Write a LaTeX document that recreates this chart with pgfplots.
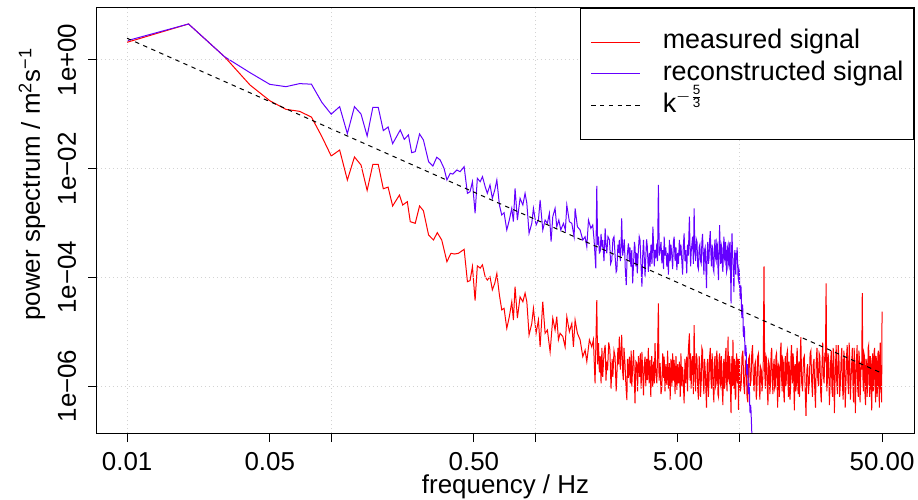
\documentclass[border=0pt]{standalone}
\usepackage{fontspec}
\setmainfont{Liberation Sans}
\usepackage{pgfplots}
\usepackage{pgfplotstable}
\pgfplotsset{compat=1.18}

\definecolor{specred}{HTML}{FF0000}
\definecolor{specpurple}{HTML}{6400FF}
\definecolor{gridgray}{HTML}{D3D3D3}

% power spectra: frequency in Hz, log10 of the power
\pgfplotstableread{
f p
0.01 0.326
0.02 0.663
0.03 0.061
0.04 -0.46
0.05 -0.749
0.06 -0.908
0.07 -0.945
0.08 -1.05
0.09 -1.41
0.10 -1.767
0.11 -1.657
0.12 -2.209
0.13 -1.785
0.14 -1.933
0.15 -2.40
0.16 -1.92
0.17 -1.92
0.18 -2.37
0.19 -2.34
0.20 -2.687
0.216 -2.485
0.224 -2.669
0.236 -2.608
0.244 -2.976
0.258 -3.006
0.271 -2.687
0.283 -2.774
0.300 -3.221
0.317 -3.313
0.331 -3.178
0.348 -3.313
0.369 -3.712
0.386 -3.558
0.402 -3.571
0.420 -3.558
0.448 -3.485
0.465 -4.08
0.479 -4.06
0.492 -3.80
0.507 -4.43
0.520 -3.79
0.537 -3.83
0.551 -3.77
0.568 -3.99
0.582 -4.05
0.600 -3.99
0.616 -4.23
0.633 -4.11
0.648 -3.93
0.667 -4.325
0.685 -4.60
0.703 -4.57
0.725 -4.94
0.746 -4.725
0.767 -4.45
0.781 -4.785
0.796 -4.17
0.817 -4.75
0.842 -4.36
0.869 -4.45
0.891 -4.29
0.909 -4.45
0.932 -5.06
0.961 -4.85
0.979 -4.57
1.009 -5.03
1.036 -4.785
1.056 -5.28
1.088 -4.45
1.117 -5.03
1.146 -4.97
1.182 -5.37
1.218 -4.75
1.250 -4.97
1.274 -4.725
1.298 -5.15
1.323 -5.03
1.364 -5.09
1.400 -5.28
1.427 -4.725
1.469 -5.00
1.510 -4.85
1.537 -5.28
1.567 -4.785
1.608 -5.03
1.658 -5.15
1.709 -5.46
1.754 -5.34
1.788 -5.55
1.841 -5.15
1.891 -5.28
1.926 -5.15
1.963 -5.95
2.001 -4.42
2.02 -5.60
2.04 -5.21
2.06 -5.75
2.08 -5.45
2.10 -5.95
2.12 -5.30
2.14 -5.83
2.17 -5.40
2.20 -5.245
2.22 -5.90
2.24 -5.55
2.26 -5.71
2.29 -5.20
2.32 -5.34
2.35 -6.05
2.38 -5.50
2.40 -5.83
2.43 -5.35
2.46 -5.46
2.49 -6.10
2.51 -5.80
2.54 -5.30
2.56 -5.60
2.58 -5.09
2.61 -5.70
2.63 -5.40
2.65 -5.06
2.68 -5.75
2.70 -5.89
2.72 -5.30
2.75 -5.58
2.78 -6.00
2.81 -6.26
2.83 -5.50
2.86 -5.85
2.89 -5.46
2.92 -5.95
2.95 -5.35
2.97 -6.01
3.00 -5.65
3.03 -5.34
3.06 -5.90
3.08 -6.32
3.11 -5.55
3.14 -5.58
3.17 -6.10
3.20 -5.45
3.24 -5.83
3.27 -5.40
3.30 -6.05
3.33 -5.37
3.36 -5.75
3.39 -6.17
3.42 -5.60
3.45 -5.46
3.48 -6.00
3.51 -5.50
3.54 -5.89
3.58 -5.30
3.61 -5.95
3.65 -5.52
3.68 -6.20
3.72 -5.45
3.76 -6.01
3.80 -5.55
3.83 -5.95
3.86 -5.21
3.90 -5.80
3.94 -5.95
3.97 -5.50
4.01 -4.48
4.04 -5.90
4.09 -5.58
4.13 -6.15
4.17 -6.01
4.21 -5.40
4.25 -5.85
4.28 -5.46
4.32 -6.10
4.36 -5.60
4.41 -5.98
4.45 -5.35
4.49 -6.05
4.54 -5.58
4.58 -6.25
4.62 -5.50
4.67 -6.01
4.71 -5.40
4.75 -5.90
4.79 -5.52
4.84 -6.15
4.89 -5.45
4.94 -6.07
4.98 -5.60
5.03 -5.95
5.08 -5.55
5.13 -6.20
5.17 -5.40
5.22 -6.01
5.27 -5.65
5.31 -5.90
5.36 -6.32
5.41 -5.50
5.46 -5.95
5.52 -5.46
5.57 -6.10
5.62 -5.35
5.69 -5.03
5.73 -5.90
5.77 -5.40
5.80 -6.05
5.85 -5.55
5.90 -5.45
5.95 -6.15
6.00 -4.88
6.05 -5.70
6.10 -6.10
6.15 -5.40
6.20 -5.50
6.25 -6.05
6.30 -6.25
6.35 -5.45
6.40 -5.60
6.45 -6.20
6.50 -5.95
6.55 -5.30
6.60 -5.35
6.65 -5.90
6.70 -6.15
6.75 -5.50
6.80 -5.70
6.85 -6.05
6.90 -6.40
6.95 -5.60
7.00 -5.50
7.05 -6.20
7.10 -5.90
7.15 -5.45
7.20 -5.30
7.25 -5.85
7.30 -6.05
7.35 -5.40
7.40 -5.65
7.45 -6.10
7.50 -6.30
7.55 -5.55
7.60 -5.45
7.65 -6.00
7.70 -5.95
7.75 -5.35
7.80 -5.55
7.85 -6.15
7.90 -6.20
7.95 -5.50
8.00 -5.40
8.05 -5.95
8.10 -6.00
8.15 -5.45
8.20 -5.75
8.25 -6.10
8.30 -6.35
8.35 -5.60
8.40 -5.50
8.45 -6.05
8.50 -5.95
8.55 -5.40
8.60 -5.30
8.65 -5.90
8.70 -6.10
8.75 -5.65
8.80 -5.09
8.85 -5.85
8.90 -5.90
8.95 -5.45
9.00 -5.60
9.05 -6.15
9.10 -6.50
9.15 -5.70
9.20 -5.45
9.25 -6.00
9.30 -5.15
9.35 -5.80
9.40 -6.05
9.45 -5.50
9.50 -5.65
9.55 -6.25
9.60 -6.20
9.65 -5.55
9.70 -5.40
9.75 -5.90
9.80 -5.95
9.85 -5.50
9.90 -6.44
9.95 -5.75
10.0 -5.50
10.1 -6.10
10.2 -6.00
10.3 -5.45
10.4 -5.35
10.5 -5.95
10.6 -6.15
10.7 -5.55
10.8 -5.60
10.9 -6.20
11.0 -6.30
11.1 -5.50
11.2 -5.45
11.3 -6.00
11.4 -5.90
11.5 -5.40
11.6 -5.25
11.7 -5.85
11.8 -6.10
11.9 -5.60
12.0 -5.55
12.1 -6.25
12.2 -6.00
12.3 -5.45
12.4 -5.40
12.5 -5.95
12.6 -6.25
12.7 -5.65
12.8 -5.70
12.9 -6.10
13.0 -5.95
13.1 -5.50
13.2 -3.80
13.3 -5.70
13.4 -6.05
13.5 -5.45
13.6 -5.50
13.7 -6.05
13.8 -6.35
13.9 -5.55
14.0 -5.60
14.1 -6.15
14.2 -5.95
14.3 -5.40
14.4 -5.30
14.5 -5.90
14.6 -6.15
14.7 -5.65
14.8 -5.50
14.9 -6.05
15.0 -6.00
15.1 -5.45
15.2 -5.40
15.3 -5.95
15.4 -6.40
15.5 -5.60
15.6 -5.65
15.7 -6.20
15.8 -5.90
15.9 -5.35
16.0 -5.20
16.1 -5.85
16.2 -6.10
16.3 -5.50
16.4 -5.55
16.5 -6.15
16.6 -6.30
16.7 -5.60
16.8 -5.45
16.9 -6.00
17.0 -5.85
17.1 -5.40
17.2 -5.35
17.3 -5.95
17.4 -6.20
17.5 -5.55
17.6 -5.70
17.7 -6.25
17.8 -6.05
17.9 -5.45
18.0 -5.25
18.1 -5.80
18.2 -5.95
18.3 -5.40
18.4 -5.50
18.5 -6.05
18.6 -6.45
18.7 -5.65
18.8 -5.60
18.9 -6.10
19.0 -6.00
19.1 -5.45
19.2 -5.30
19.3 -5.90
19.4 -6.15
19.5 -5.60
19.6 -5.55
19.7 -6.20
19.8 -5.90
19.9 -5.40
20.0 -5.10
20.2 -5.95
20.4 -6.10
20.6 -5.50
20.8 -5.45
21.0 -6.05
21.2 -6.55
21.4 -5.70
21.6 -5.60
21.8 -6.15
22.0 -5.95
22.2 -5.40
22.4 -5.35
22.6 -5.90
22.8 -6.20
23.0 -5.60
23.2 -5.50
23.4 -6.05
23.6 -6.40
23.8 -5.55
24.0 -5.30
24.2 -5.85
24.4 -6.00
24.6 -5.40
24.8 -5.45
25.0 -6.10
25.2 -6.30
25.4 -5.60
25.6 -5.20
25.8 -5.80
26.0 -5.95
26.2 -5.45
26.4 -5.50
26.6 -4.11
26.8 -6.10
27.0 -5.90
27.2 -5.40
27.4 -5.55
27.6 -6.35
27.8 -6.00
28.0 -5.55
28.2 -5.35
28.4 -6.05
28.6 -6.20
28.8 -5.30
29.0 -5.45
29.2 -6.50
29.4 -5.95
29.6 -5.60
29.8 -5.25
30.0 -5.95
30.25 -6.15
30.5 -5.25
30.75 -5.50
31.0 -6.20
31.25 -5.95
31.5 -5.50
31.75 -5.30
32.0 -6.00
32.25 -6.25
32.5 -5.35
32.75 -5.55
33.0 -6.40
33.25 -6.00
33.5 -5.45
33.75 -5.25
34.0 -5.90
34.25 -6.15
34.5 -5.20
34.75 -5.55
35.0 -6.25
35.25 -5.85
35.5 -5.60
35.75 -5.30
36.0 -5.95
36.25 -6.30
36.5 -5.30
36.75 -5.60
37.0 -6.50
37.25 -5.90
37.5 -5.50
37.75 -5.25
38.0 -6.05
38.25 -6.20
38.5 -5.35
38.75 -5.50
39.0 -6.30
39.25 -5.95
39.5 -5.55
39.75 -5.70
40.0 -4.29
40.25 -5.80
40.5 -6.10
40.75 -5.40
41.0 -5.45
41.25 -6.15
41.5 -6.35
41.75 -5.50
42.0 -5.60
42.25 -6.20
42.5 -5.90
42.75 -5.30
43.0 -5.25
43.25 -5.95
43.5 -6.20
43.75 -5.45
44.0 -5.50
44.25 -6.05
44.5 -6.45
44.75 -5.60
45.0 -5.40
45.25 -6.10
45.5 -5.95
45.75 -5.35
46.0 -5.30
46.25 -6.00
46.5 -6.30
46.75 -5.45
47.0 -5.55
47.25 -6.20
47.5 -6.05
47.75 -5.40
48.0 -5.35
48.25 -5.90
48.5 -6.40
48.75 -5.50
49.0 -5.20
49.25 -6.00
49.5 -6.10
49.75 -6.30
50.0 -4.63
}\measured

\pgfplotstableread{
f p
0.01 0.355
0.02 0.663
0.03 0.061
0.04 -0.233
0.05 -0.448
0.06 -0.491
0.07 -0.435
0.08 -0.445
0.09 -0.78
0.10 -0.997
0.11 -0.859
0.12 -1.355
0.13 -0.859
0.14 -0.995
0.15 -1.399
0.16 -0.871
0.17 -0.871
0.18 -1.30
0.19 -1.233
0.20 -1.54
0.218 -1.288
0.228 -1.46
0.239 -1.38
0.248 -1.706
0.258 -1.687
0.271 -1.362
0.283 -1.472
0.300 -1.871
0.315 -1.951
0.329 -1.79
0.342 -1.84
0.357 -1.993
0.369 -2.209
0.383 -2.085
0.394 -2.10
0.413 -2.025
0.428 -2.056
0.448 -1.964
0.465 -2.454
0.479 -2.424
0.492 -2.24
0.507 -2.82
0.520 -2.178
0.537 -2.24
0.551 -2.147
0.568 -2.332
0.582 -2.454
0.600 -2.30
0.616 -2.546
0.633 -2.393
0.648 -2.209
0.667 -2.669
0.685 -2.853
0.703 -2.81
0.725 -3.129
0.746 -2.945
0.767 -2.73
0.781 -2.976
0.796 -2.362
0.817 -2.945
0.842 -2.546
0.869 -2.669
0.891 -2.454
0.909 -2.638
0.932 -3.19
0.961 -3.006
0.979 -2.73
1.009 -3.037
1.036 -2.945
1.056 -2.577
1.088 -3.129
1.117 -2.945
1.146 -3.006
1.172 -2.822
1.195 -3.344
1.218 -2.884
1.250 -2.73
1.274 -3.068
1.304 -2.945
1.333 -3.129
1.374 -3.006
1.404 -3.129
1.427 -2.669
1.469 -2.976
1.510 -3.006
1.549 -3.252
1.567 -2.73
1.608 -3.068
1.658 -3.129
1.709 -3.313
1.754 -3.252
1.788 -3.436
1.822 -2.945
1.872 -3.098
1.912 -3.037
1.941 -3.313
1.979 -3.834
2.001 -2.319
2.02 -3.40
2.04 -3.252
2.06 -3.55
2.08 -3.528
2.10 -3.20
2.12 -3.45
2.14 -3.313
2.17 -3.70
2.20 -3.098
2.22 -3.40
2.24 -3.558
2.27 -3.25
2.31 -3.313
2.34 -3.75
2.37 -3.681
2.40 -3.30
2.43 -3.252
2.46 -3.60
2.49 -3.90
2.51 -3.865
2.54 -3.40
2.56 -3.55
2.58 -3.313
2.61 -3.70
2.63 -3.45
2.65 -2.914
2.68 -3.60
2.70 -3.497
2.73 -3.30
2.76 -3.85
2.79 -4.141
2.82 -3.60
2.86 -3.374
2.89 -3.70
2.91 -3.45
2.94 -3.804
2.97 -3.50
3.00 -4.11
3.03 -3.75
3.06 -3.35
3.08 -3.436
3.11 -3.80
3.14 -3.55
3.16 -3.926
3.20 -3.50
3.23 -3.25
3.26 -3.313
3.29 -3.70
3.33 -4.172
3.36 -3.60
3.39 -3.313
3.42 -3.65
3.45 -3.988
3.49 -3.50
3.51 -3.30
3.54 -3.436
3.58 -3.90
3.62 -3.55
3.65 -3.804
3.69 -3.40
3.73 -3.75
3.77 -3.068
3.80 -3.45
3.83 -3.80
3.86 -3.497
3.90 -3.65
3.94 -3.374
3.97 -3.70
4.01 -2.30
4.05 -3.60
4.09 -3.497
4.13 -3.35
4.17 -3.742
4.21 -3.50
4.25 -3.85
4.28 -3.252
4.32 -3.60
4.36 -3.45
4.41 -3.804
4.45 -3.55
4.49 -3.95
4.54 -3.313
4.58 -3.70
4.62 -3.40
4.67 -3.62
4.71 -3.85
4.75 -3.35
4.79 -3.252
4.84 -3.70
4.89 -3.45
4.94 -3.865
4.98 -3.55
5.03 -3.75
5.08 -3.313
5.13 -3.60
5.17 -3.40
5.22 -3.681
5.27 -3.95
5.31 -3.45
5.36 -3.19
5.41 -3.70
5.46 -3.50
5.52 -3.926
5.57 -3.40
5.62 -3.60
5.69 -2.884
5.73 -3.45
5.77 -3.80
5.80 -3.55
5.85 -3.40
5.90 -3.25
5.95 -3.75
6.00 -2.73
6.05 -3.50
6.10 -3.70
6.15 -3.30
6.20 -3.35
6.25 -3.80
6.30 -3.85
6.35 -3.45
6.40 -3.40
6.45 -3.70
6.50 -3.75
6.55 -3.35
6.60 -3.20
6.65 -3.60
6.70 -3.95
6.75 -3.50
6.80 -3.45
6.85 -3.80
6.90 -4.20
6.95 -3.55
7.00 -3.35
7.05 -3.75
7.10 -3.65
7.15 -3.30
7.20 -3.15
7.25 -3.55
7.30 -3.80
7.35 -3.40
7.40 -3.50
7.45 -3.85
7.50 -3.90
7.55 -3.45
7.60 -3.30
7.65 -3.65
7.70 -3.70
7.75 -3.35
7.80 -3.40
7.85 -3.80
7.90 -4.05
7.95 -3.50
8.00 -3.04
8.05 -3.55
8.10 -3.75
8.15 -3.40
8.20 -3.45
8.25 -3.80
8.30 -3.90
8.35 -3.50
8.40 -3.25
8.45 -3.65
8.50 -3.70
8.55 -3.35
8.60 -3.50
8.65 -3.90
8.70 -3.85
8.75 -3.45
8.80 -3.40
8.85 -3.75
8.90 -3.80
8.95 -3.40
9.00 -3.35
9.05 -3.85
9.10 -4.48
9.15 -3.60
9.20 -3.19
9.25 -3.50
9.30 -3.75
9.35 -3.95
9.40 -4.27
9.45 -3.70
9.50 -3.50
9.55 -3.80
9.60 -3.95
9.65 -3.55
9.70 -3.60
9.75 -3.45
9.80 -3.74
9.85 -4.00
9.90 -4.05
9.95 -3.85
10.0 -3.90
10.05 -4.30
10.1 -4.40
10.15 -4.15
10.2 -4.20
10.25 -4.65
10.3 -4.75
10.35 -4.50
10.4 -4.60
10.45 -5.05
10.5 -5.10
10.55 -4.90
10.6 -5.00
10.65 -5.40
10.7 -5.45
10.75 -5.25
10.8 -5.35
10.85 -5.75
10.9 -5.80
10.95 -5.60
11.0 -5.70
11.05 -6.10
11.1 -6.15
11.15 -5.95
11.2 -6.05
11.25 -6.45
11.3 -6.50
11.35 -6.35
11.4 -6.45
11.5 -6.85
11.6 -7.00
}\reconstructed

\begin{document}
\begin{tikzpicture}
\begin{axis}[
  name=ax,
  scale only axis, width=408.5bp, height=212.5bp,
  xmode=log, log basis x=10,
  xmin=0.00712, xmax=71.7, ymin=-6.865, ymax=0.957,
  axis line style={line width=0.5bp, black},
  tick align=outside, tick pos=left,
  major tick length=4.5bp,
  tick style={line width=0.5bp, black},
  minor tick style={draw=none},
  xtick={0.01,0.1,1,10}, xticklabels={0.01,{},{},{}},
  extra x ticks={0.05,0.5,5,50},
  extra x tick labels={0.05,0.50,5.00,50.00},
  extra x tick style={grid=none},
  ytick={-6,-4,-2,0},
  yticklabels={1e−06,1e−04,1e−02,1e+00},
  grid=major,
  grid style={gridgray, line width=0.5bp, dash pattern=on 0.5bp off 1.5bp},
  axis on top,
  every tick label/.append style={font=\fontsize{13}{15.6}\selectfont},
  xticklabel style={inner sep=0pt, anchor=north, yshift=-5bp},
  yticklabel style={rotate=90, anchor=south, inner sep=0pt},
  yticklabel shift=5.75bp,
  xlabel={frequency / Hz},
  ylabel={power spectrum / m\textsuperscript{2}s\textsuperscript{−1}},
  label style={font=\fontsize{13}{15.6}\selectfont},
  xlabel style={at={(axis description cs:0.5,-0.1424)}, anchor=base},
  ylabel style={at={(axis description cs:-0.0698,0.586)}, anchor=base},
  legend style={at={(1,1)}, anchor=north east, draw=black, line width=0.5bp,
    fill=white, font=\fontsize{13.5}{16}\selectfont,
    inner xsep=5bp, inner ysep=8.9bp, row sep=0bp,
    cells={anchor=west},
    nodes={inner xsep=0bp, inner ysep=1.2bp, text height=10bp, text depth=3.5bp},
    /tikz/every odd column/.append style={column sep=11bp}},
  legend image code/.code={%
    \draw[#1, line width=0.5bp] (0bp,0bp) -- (24.5bp,0bp);},
]
\addplot[color=specred, line width=0.5bp] table[x=f, y=p] {\measured};
\addlegendentry{measured signal}
\addplot[color=specpurple, line width=0.5bp] table[x=f, y=p] {\reconstructed};
\addlegendentry{reconstructed signal}
% reference slope -5/3
\addplot[color=black, line width=0.5bp, dash pattern=on 2.2bp off 2.2bp]
  coordinates {(0.01,0.40) (50,-5.765)};
\addlegendentry{k$^{-\frac{\mathrm{5}}{\mathrm{3}}}$}
\end{axis}
\pgfresetboundingbox
\path[use as bounding box] (ax.south west) ++(-48.5bp,-33.5bp) rectangle ++(459bp,250bp);
\end{tikzpicture}
\end{document}
